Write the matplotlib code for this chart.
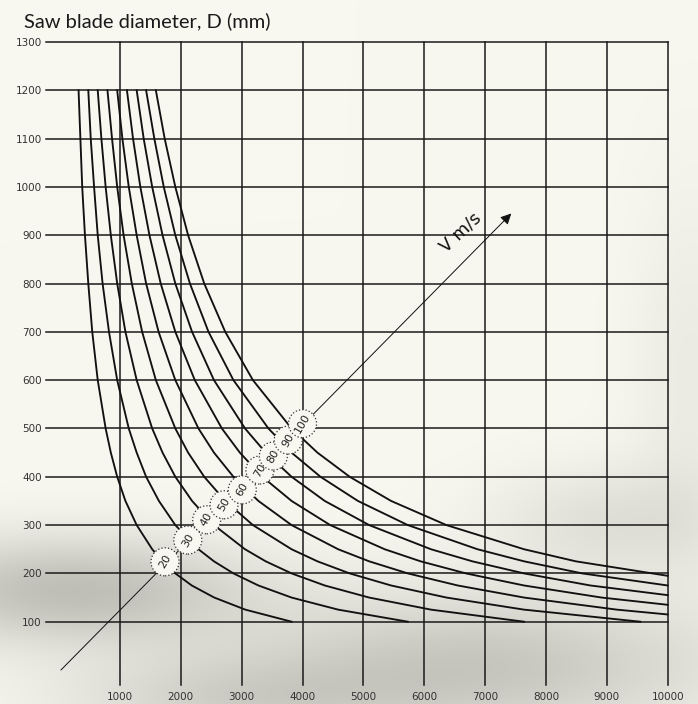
import numpy as np
import matplotlib.pyplot as plt
from matplotlib.patches import Circle
from matplotlib.transforms import ScaledTranslation

# diameter levels (mm) at which the curves were read
D_levels = [1200, 1100, 1000, 900, 800, 700, 600, 500, 450, 400, 350,
            300, 250, 225, 200, 175, 150, 125, 100]

speeds = [20, 30, 40, 50, 60, 70, 80, 90, 100]

# spindle speed (rpm) at the D levels above
rpm_20 = [320, 350, 380, 425, 480, 545, 635, 765, 850, 955, 1090, 1275, 1530, 1700, 1910, 2180, 2550, 3060, 3820]
rpm_30 = [480, 520, 575, 635, 715, 820, 955, 1145, 1275, 1430, 1640, 1910, 2290, 2545, 2865, 3275, 3820, 4585, 5730]
rpm_40 = [635, 695, 765, 850, 955, 1090, 1275, 1530, 1700, 1910, 2185, 2545, 3055, 3395, 3820, 4365, 5095, 6110, 7640]
rpm_50 = [795, 870, 955, 1060, 1195, 1365, 1590, 1910, 2120, 2385, 2730, 3185, 3820, 4245, 4775, 5455, 6365, 7640, 9550]
rpm_60 = [955, 1040, 1145, 1275, 1430, 1635, 1910, 2290, 2545, 2865, 3275, 3820, 4585, 5095, 5730, 6550, 7640, 9165]
rpm_70 = [1115, 1215, 1335, 1485, 1670, 1910, 2230, 2675, 2970, 3340, 3820, 4455, 5350, 5940, 6685, 7640, 8915]
rpm_80 = [1275, 1390, 1530, 1700, 1910, 2185, 2545, 3055, 3395, 3820, 4365, 5095, 6110, 6790, 7640, 8730]
rpm_90 = [1430, 1565, 1720, 1910, 2150, 2455, 2865, 3440, 3820, 4295, 4910, 5730, 6875, 7640, 8595]
rpm_100 = [1590, 1735, 1910, 2120, 2385, 2730, 3185, 3820, 4245, 4775, 5455, 6365, 7640, 8490]
rpm_curves = [rpm_20, rpm_30, rpm_40, rpm_50, rpm_60, rpm_70, rpm_80, rpm_90, rpm_100]

# diameter where a curve runs into the 10000 rpm edge (None = ends at 100 mm)
edge_diameter = [None, None, None, None, 115, 135, 155, 175, 195]

x_ticks = list(range(1000, 10001, 1000))
y_ticks = list(range(100, 1301, 100))

# where the V labels sit (rpm, mm)
label_pos = [(1740, 224), (2115, 269), (2425, 311), (2710, 342), (3010, 373),
             (3300, 414), (3520, 443), (3765, 476), (4000, 510)]

paper = np.array([248, 247, 240]) / 255.0

fig = plt.figure(figsize=(6.98, 7.04), dpi=100)

# paper background with soft shadows
bg = fig.add_axes([0, 0, 1, 1], zorder=-1)
yy, xx = np.mgrid[0:704, 0:698]
shade = np.zeros((704, 698))
for cx, cy, sx, sy, a in [(70, 590, 180, 55, 0.22), (480, 665, 240, 75, 0.19),
                          (610, 520, 120, 55, 0.09), (230, 700, 170, 45, 0.12),
                          (690, 380, 60, 200, 0.05)]:
    shade += a * np.exp(-((xx - cx) / sx) ** 2 - ((yy - cy) / sy) ** 2)
shade = np.clip(shade, 0, 0.26)
img = paper[None, None, :] - shade[:, :, None]
bg.imshow(img, aspect='auto', interpolation='bilinear')
bg.axis('off')

ax = fig.add_axes([46 / 698, 1 - 685 / 704, (667.7 - 46) / 698, (685 - 42) / 704])
ax.set_facecolor('none')
ax.set_xlim(-215, 10000)
ax.set_ylim(-31, 1300)
for s in ax.spines.values():
    s.set_visible(False)

for xv in x_ticks:
    ax.axvline(xv, color='#1a1a1a', lw=1.1, clip_on=False, zorder=1)
for yv in y_ticks:
    ax.axhline(yv, color='#1a1a1a', lw=1.1, clip_on=False, zorder=1)

ax.set_xticks(x_ticks)
ax.set_yticks(y_ticks)
ax.tick_params(length=0, labelsize=7.5, labelcolor='#333333', pad=5)
ax.tick_params(axis='y', pad=3)

for rpm, edge in zip(rpm_curves, edge_diameter):
    n = list(rpm)
    d = D_levels[:len(rpm)]
    if edge is not None:
        n.append(10000)
        d = d + [edge]
    ax.plot(n, d, color='#111111', lw=1.35, zorder=2, clip_on=False)

# speed axis arrow
ax.annotate('', xy=(7430, 945), xytext=(30, 0),
            arrowprops=dict(arrowstyle='-|>', lw=0.7, color='#111111',
                            mutation_scale=16, shrinkA=0, shrinkB=0),
            zorder=3, annotation_clip=False)
ax.text(6600, 905, 'V m/s', rotation=43, fontsize=12.5, ha='center', va='center',
        color='#111111', zorder=3)

for v, (xn, yd) in zip(speeds, label_pos):
    tr = fig.dpi_scale_trans + ScaledTranslation(xn, yd, ax.transData)
    c = Circle((0, 0), 0.14, transform=tr, facecolor=paper, edgecolor='#333333',
               ls=':', lw=0.9, zorder=4)
    ax.add_patch(c)
    ax.text(xn, yd, str(v), rotation=60, fontsize=8, ha='center', va='center',
            color='#222222', zorder=5)

fig.text(24 / 698, 1 - 21 / 704, 'Saw blade diameter, D (mm)', fontsize=14.5,
         family='Lato', color='#1a1a1a', va='center', ha='left')

fig.savefig('out.png', dpi=100)
